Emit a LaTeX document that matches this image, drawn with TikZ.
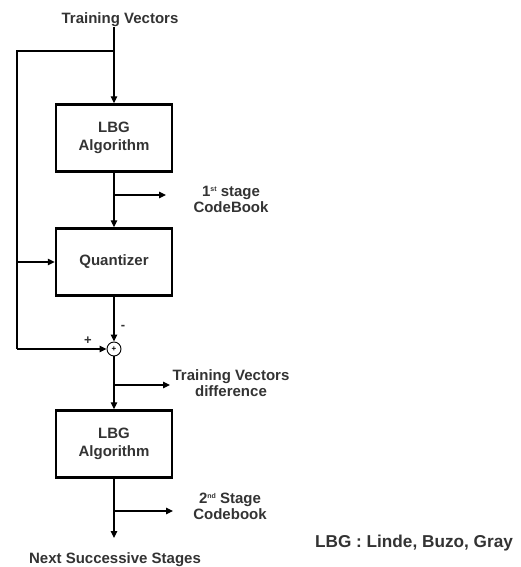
\documentclass[tikz,border=0pt]{standalone}
\usepackage{fontspec}
\setmainfont{Liberation Sans}
\usetikzlibrary{arrows.meta}
\newcommand{\tinysup}[1]{\raisebox{0.55ex}{\fontsize{7}{7}\selectfont #1}}
\begin{document}
\begin{tikzpicture}[x=1pt,y=-1pt,
  txt/.style={font=\fontsize{15}{16}\selectfont\bfseries, text=black!80, inner sep=0pt, align=center},
  blk/.style={draw, line width=2.4pt, minimum width=116pt, minimum height=67pt, inner sep=0pt, align=center, font=\fontsize{15}{18}\selectfont\bfseries, text=black!80},
  conn/.style={line width=1.2pt},
  arr/.style={conn, -{Triangle[length=7pt,width=6.5pt]}}]
\useasboundingbox (0,0) rectangle (521,567);
\node[txt] (tv) at (120,20) {Training Vectors};
\node[blk] (lbg1) at (114,138) {LBG\\Algorithm};
\node[blk] (quant) at (114,262) {Quantizer};
\node[draw, circle, line width=0.9pt, minimum size=14pt, inner sep=0pt] (sum) at (114,349) {};
\node[font=\fontsize{8}{8}\selectfont\bfseries, inner sep=0pt] (plusin) at (sum.center) {+};
\node[blk] (lbg2) at (114,444) {LBG\\Algorithm};
\coordinate (top) at (114,51);
\coordinate (lc) at (17,51);
\coordinate (lq) at (17,262);
\coordinate (ls) at (17,349);
\coordinate (b1) at (114,195);
\coordinate (b1e) at (166,195);
\coordinate (b2) at (114,385);
\coordinate (b2e) at (170,385);
\coordinate (b3) at (114,511);
\coordinate (b3e) at (173,511);
\coordinate (end) at (114,538);
\node[txt] (cb1) at (231,199) {1\tinysup{st} stage\\CodeBook};
\node[txt] (tvd) at (231,383) {Training Vectors\\difference};
\node[txt] (cb2) at (230,506) {2\tinysup{nd} Stage\\Codebook};
\node[txt] (next) at (115,560) {Next Successive Stages};
\node[txt, font=\fontsize{17.2}{18}\selectfont\bfseries] (leg) at (414,543) {LBG : Linde, Buzo, Gray};
\node[txt, font=\fontsize{13}{13}\selectfont\bfseries] (minus) at (123,327) {-};
\node[txt, font=\fontsize{13}{13}\selectfont\bfseries] (plus) at (88,341) {+};
\draw[arr] (tv.south -| top) -- (lbg1.north);
\draw[conn] (top) -- (lc) -- (ls);
\draw[arr] (lq) -- (quant.west);
\draw[arr] (ls) -- (sum.west);
\draw[arr] (lbg1.south) -- (quant.north);
\draw[arr] (b1) -- (b1e);
\draw[arr] (quant.south) -- (sum.north);
\draw[arr] (sum.south) -- (lbg2.north);
\draw[arr] (b2) -- (b2e);
\draw[arr] (lbg2.south) -- (end);
\draw[arr] (b3) -- (b3e);
\end{tikzpicture}
\end{document}
